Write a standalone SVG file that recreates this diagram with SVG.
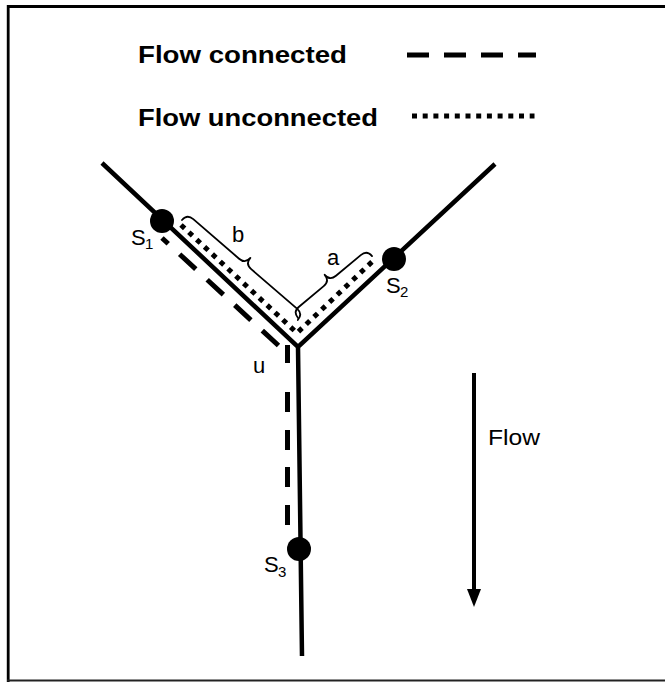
<svg xmlns="http://www.w3.org/2000/svg" width="665" height="682" viewBox="0 0 665 682">
<style>
  text { font-family: "Liberation Sans", Arial, sans-serif; fill: #000; }
  .legend { font-size: 24px; font-weight: bold; }
  .lbl { font-size: 22px; }
  .sub { font-size: 15px; }
  .main { fill: none; stroke: #000; stroke-width: 4.5; stroke-linejoin: miter; }
  .conn { fill: none; stroke: #000; stroke-width: 5; }
  .unconn { fill: none; stroke: #000; stroke-width: 5; stroke-dasharray: 5 5.7; }
  .brace { fill: none; stroke: #000; stroke-width: 1.8; stroke-linecap: round; stroke-linejoin: round; }
  .node { fill: #000; }
</style>
<defs>
  <marker id="arrowhead" viewBox="0 0 18 14" refX="1" refY="7" markerWidth="18" markerHeight="14" markerUnits="userSpaceOnUse" orient="auto">
    <path d="M0,0 L18,7 L0,14 Z" fill="#000"/>
  </marker>
</defs>
<rect width="665" height="682" fill="#fff"/>
<g id="frame">
  <path d="M7,6.5 H665" stroke="#000" stroke-width="3"/>
  <path d="M8.2,5 V682" stroke="#000" stroke-width="2.8"/>
  <path d="M7,680.5 H665" stroke="#222" stroke-width="2"/>
</g>
<g id="legend">
  <text class="legend" x="138" y="63" textLength="209" lengthAdjust="spacingAndGlyphs">Flow connected</text>
  <text class="legend" x="138" y="126" textLength="240" lengthAdjust="spacingAndGlyphs">Flow unconnected</text>
  <path class="conn" d="M407,55 H536" stroke-dasharray="22 15"/>
  <path class="unconn" d="M412,116 H534.5" stroke-dasharray="5 5.64"/>
</g>
<g id="connectors">
  <path class="main" d="M102,163 L298,347 L495,164 M298,347 L302,656"/>
  <path class="conn" d="M162,238 L279,346" stroke-dasharray="22 15.5" stroke-dashoffset="13.5"/>
  <path class="conn" d="M287.5,345 V525" stroke-dasharray="18 29 20 18 20 17 20 18 20 100"/>
  <path class="unconn" d="M181,225 L297,333 L376,258"/>
  <g id="brace-b" transform="translate(182,220) rotate(40.8)">
    <path class="brace" d="M0,0 q0,-8 8,-8 L68.5,-8 q8,0 8,-8 q0,8 8,8 L145,-8 q8,0 8,8"/>
  </g>
  <g id="brace-a" transform="translate(298,318) rotate(-39.9)">
    <path class="brace" d="M0,0 q0,-8 8,-8 L40.2,-8 q8,0 8,-8 q0,8 8,8 L88.5,-8 q8,0 8,8"/>
  </g>
  <path id="flow-arrow" d="M474,373 V590" stroke="#000" stroke-width="4" marker-end="url(#arrowhead)"/>
</g>
<g id="S1">
  <circle class="node" cx="162" cy="221" r="12"/>
  <text class="lbl" x="131" y="245">S</text>
  <text class="sub" x="145" y="249">1</text>
</g>
<g id="S2">
  <circle class="node" cx="394" cy="259" r="12"/>
  <text class="lbl" x="386" y="293">S</text>
  <text class="sub" x="400" y="297">2</text>
</g>
<g id="S3">
  <circle class="node" cx="299" cy="549" r="12"/>
  <text class="lbl" x="264" y="572">S</text>
  <text class="sub" x="278" y="577">3</text>
</g>
<g id="labels">
  <text class="lbl" x="232" y="242">b</text>
  <text class="lbl" x="327" y="265">a</text>
  <text class="lbl" x="253" y="373">u</text>
  <text class="lbl" x="488" y="445" textLength="52" lengthAdjust="spacingAndGlyphs">Flow</text>
</g>
</svg>
